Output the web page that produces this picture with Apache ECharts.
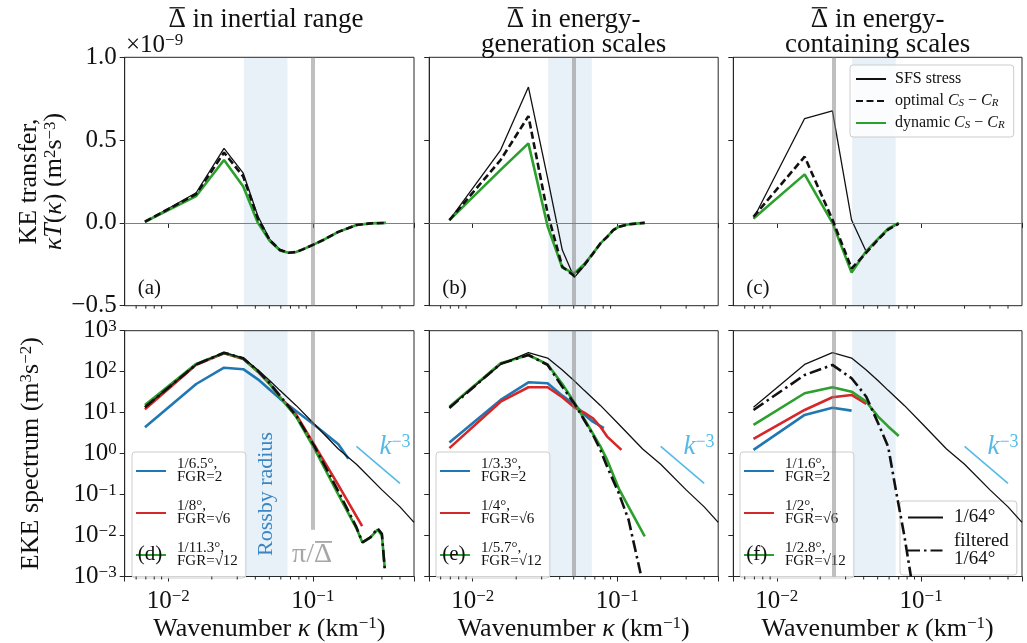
<!DOCTYPE html>
<html>
<head>
<meta charset="utf-8">
<script src="https://cdn.jsdelivr.net/npm/echarts@6/dist/echarts.min.js"></script>
<style>
  html, body { margin: 0; padding: 0; background: #fff; }
  #chart { width: 1027px; height: 643px; }
</style>
</head>
<body>
<div id="chart"></div>
<script>
const FONT = 'Liberation Serif';

// ---- top row: KE transfer (units of 1e-9 m^2 s^-3) ----
const kA = [0.0069, 0.0156, 0.0243, 0.033, 0.0417, 0.0504, 0.0591, 0.0678, 0.0765, 0.0852, 0.1026, 0.12, 0.15, 0.2, 0.25, 0.32];
const sfsA = [0.007, 0.182, 0.45, 0.30, 0.04, -0.10, -0.16, -0.18, -0.176, -0.16, -0.128, -0.10, -0.054, -0.013, -0.003, 0.0];
const optA = [0.007, 0.174, 0.425, 0.28, 0.025, -0.105, -0.163, -0.18, -0.176, -0.16, -0.128, -0.10, -0.054, -0.013, -0.003, 0.0];
const dynA = [0.007, 0.162, 0.38, 0.22, 0.0, -0.11, -0.166, -0.18, -0.176, -0.16, -0.128, -0.10, -0.054, -0.013, -0.003, 0.0];

const kB = [0.0069, 0.0156, 0.0243, 0.033, 0.0417, 0.0504, 0.0591, 0.0678, 0.0765, 0.0852, 0.0939, 0.1026, 0.12, 0.155];
const sfsB = [0.017, 0.44, 0.82, 0.27, -0.164, -0.33, -0.259, -0.187, -0.124, -0.084, -0.044, -0.023, -0.008, 0.0];
const optB = [0.017, 0.38, 0.645, 0.057, -0.265, -0.32, -0.255, -0.187, -0.124, -0.084, -0.044, -0.023, -0.008, 0.0];
const dynB = [0.017, 0.32, 0.48, -0.02, -0.27, -0.305, -0.25, -0.185, -0.124, -0.084, -0.044, -0.023, -0.008, 0.0];

const kC = [0.0069, 0.0156, 0.0243, 0.033, 0.0417, 0.0504, 0.0591, 0.07];
const sfsC = [0.027, 0.63, 0.677, 0.017, -0.174, -0.10, -0.04, -0.005];
const optC = [0.037, 0.40, 0.02, -0.275, -0.18, -0.10, -0.04, -0.005];
const dynC = [0.027, 0.293, 0.0, -0.30, -0.17, -0.095, -0.035, 0.0];

// ---- bottom row: EKE spectrum (m^3 s^-2) ----
const kRef = [0.0069, 0.0156, 0.0243, 0.033, 0.0417, 0.0504, 0.0591, 0.0765, 0.1026, 0.15, 0.2, 0.3, 0.4, 0.5];
const eRef = [13.5, 150, 290, 215, 110, 60, 35, 15, 5.2, 1.3, 0.55, 0.13, 0.05, 0.021];

const kD1 = [0.0069, 0.0156, 0.0243, 0.033, 0.0417, 0.0504, 0.0591, 0.0765, 0.1026, 0.15, 0.176];
const eD1 = [4.4, 50, 125, 115, 65, 36, 22, 11, 5.0, 1.7, 0.75];
const kD2 = [0.0069, 0.0156, 0.0243, 0.033, 0.0417, 0.0504, 0.0591, 0.0765, 0.1026, 0.15, 0.219];
const eD2 = [12, 148, 280, 205, 100, 50, 24, 9, 1.6, 0.17, 0.017];
const kD3 = [0.0069, 0.0156, 0.0243, 0.033, 0.0417, 0.0504, 0.0591, 0.0765, 0.1026, 0.15, 0.2, 0.22, 0.25, 0.28, 0.3, 0.314];
const eD3 = [15.4, 155, 285, 210, 100, 50, 24, 8, 1.3, 0.1, 0.015, 0.0068, 0.009, 0.014, 0.01, 0.0016];
const fD = [13.5, 150, 290, 212, 105, 52, 26, 8.5, 1.5, 0.12, 0.016, 0.0068, 0.009, 0.015, 0.011, 0.0015];

const kE1 = [0.0069, 0.0156, 0.0243, 0.033, 0.0417, 0.0504, 0.0591, 0.0678, 0.081];
const eE1 = [1.86, 20.4, 55, 52, 26, 16, 9, 6, 4.2];
const kE2 = [0.0069, 0.0156, 0.0243, 0.033, 0.0417, 0.0504, 0.0591, 0.0678, 0.0765, 0.0852, 0.107];
const eE2 = [1.36, 18.5, 41.7, 41.7, 23.7, 13.5, 10, 7.3, 4.5, 2.6, 1.23];
const kE3 = [0.0069, 0.0156, 0.0243, 0.033, 0.0417, 0.0504, 0.0591, 0.0678, 0.0765, 0.0852, 0.1026, 0.12, 0.155];
const eE3 = [14, 160, 255, 150, 50, 18, 7, 3.1, 1.5, 0.7, 0.14, 0.05, 0.0095];
const kEf = [0.0069, 0.0156, 0.0243, 0.033, 0.0417, 0.0504, 0.0591, 0.0678, 0.0765, 0.0852, 0.1026, 0.12, 0.145];
const fE = [13, 155, 255, 146, 43, 17, 6.6, 2.9, 1.23, 0.48, 0.108, 0.024, 0.0012];

const kF1 = [0.0069, 0.0156, 0.0243, 0.033];
const eF1 = [1.23, 8.8, 13.2, 11.2];
const kF2 = [0.0069, 0.0156, 0.0243, 0.033, 0.0417];
const eF2 = [2.28, 11.6, 23.7, 27, 16.4];
const kF3 = [0.0069, 0.0156, 0.0243, 0.033, 0.0417, 0.0504, 0.0591, 0.07];
const eF3 = [5.0, 29.7, 41.7, 32.5, 18.5, 8, 4.6, 2.7];
const kFf = [0.0069, 0.0156, 0.0243, 0.033, 0.0417, 0.0504, 0.0591, 0.0678, 0.0765, 0.085];
const fF = [11.6, 83, 146, 69, 24.5, 5.5, 1.48, 0.098, 0.01, 0.001];

// k^-3 reference segment
const kSlope = [0.2, 0.4];
const eSlope = [1.5, 0.1875];

// shading and markers
const rossbyBand = [0.0333, 0.0667];
const piOverDelta = [0.1, 0.05, 0.025];
const piLineBottomD = 0.0138;
const minorTicks = [0.006, 0.007, 0.008, 0.009, 0.02, 0.03, 0.04, 0.05, 0.06, 0.07, 0.08, 0.09, 0.2, 0.3, 0.4];

const names = {
  d: ['1/6.5°,\nFGR=2', '1/8°,\nFGR=√6', '1/11.3°,\nFGR=√12'],
  e: ['1/3.3°,\nFGR=2', '1/4°,\nFGR=√6', '1/5.7°,\nFGR=√12'],
  f: ['1/1.6°,\nFGR=2', '1/2°,\nFGR=√6', '1/2.8°,\nFGR=√12']
};

const BLUE = '#1f77b4', RED = '#d62728', GREEN = '#2ca02c', BLACK = '#111111', SKY = '#56b9e8';
const AX = '#262626';

const grids = [
  { left: 124.7, top: 57.3, width: 289.3, height: 248.4 },
  { left: 429.2, top: 57.3, width: 289, height: 248.4 },
  { left: 733.3, top: 57.3, width: 288.7, height: 248.4 },
  { left: 124.7, top: 330.7, width: 289.3, height: 246 },
  { left: 429.2, top: 330.7, width: 289, height: 246 },
  { left: 733.3, top: 330.7, width: 288.7, height: 246 }
].map(g => Object.assign({ show: true, borderColor: AX, borderWidth: 1, containLabel: false }, g));

const pts = (k, v) => k.map((x, i) => [x, v[i]]);
const line = (name, k, v, g, color, width, type, z) => ({
  name, type: 'line', xAxisIndex: g, yAxisIndex: g, data: pts(k, v),
  symbol: 'none', silent: true, animation: false, z: z,
  lineStyle: { color: color, width: width, type: type || 'solid', cap: 'butt' },
  itemStyle: { color: color }
});

const supRich = {
  b: { fontFamily: FONT, fontSize: 25, color: '#111', verticalAlign: 'bottom' },
  sup: { fontFamily: FONT, fontSize: 17, color: '#111', verticalAlign: 'top' },
  i: { fontFamily: FONT, fontSize: 26, fontStyle: 'italic', color: '#111' },
  n: { fontFamily: FONT, fontSize: 26, color: '#111' },
  s: { fontFamily: FONT, fontSize: 17, color: '#111', verticalAlign: 'top', padding: [0, 0, 10, 0] }
};

function powLabel(v) {
  const e = Math.round(Math.log10(v));
  if (Math.abs(Math.log10(v) - e) > 1e-6) return '';
  return '{b|10}{sup|' + (e < 0 ? '−' : '') + Math.abs(e) + '}';
}

const xAxes = grids.map((g, i) => ({
  type: 'log', gridIndex: i, min: 0.005, max: 0.5, logBase: 10,
  axisLine: { show: true, lineStyle: { color: AX, width: 1 } },
  axisTick: { show: true, length: 5, lineStyle: { color: AX, width: 1 } },
  splitLine: { show: false },
  axisLabel: { show: i >= 3, formatter: powLabel, rich: supRich, margin: 12 },
  name: i >= 3 ? '{n|Wavenumber }{i|κ}{n| (km}{s|−1}{n|)}' : '',
  nameLocation: 'middle', nameGap: 39,
  nameTextStyle: { rich: supRich }
}));

const yAxes = grids.map((g, i) => {
  if (i < 3) {
    return {
      type: 'value', gridIndex: i, min: -0.5, max: 1.0, interval: 0.5,
      axisLine: { show: true, lineStyle: { color: AX } },
      axisTick: { show: true, length: 5, lineStyle: { color: AX } },
      splitLine: { show: false },
      axisLabel: {
        show: i === 0, margin: 8,
        formatter: v => '{b|' + v.toFixed(1).replace('-', '−') + '}', rich: supRich
      },
      name: i === 0 ? '{n|KE transfer,}\n{i|κT}{n|(}{i|κ}{n|) (m}{s|2}{n|s}{s|−3}{n|)}' : '',
      nameLocation: 'middle', nameRotate: 90, nameGap: 58,
      nameTextStyle: { rich: supRich, lineHeight: 25 }
    };
  }
  return {
    type: 'log', gridIndex: i, min: 0.001, max: 1000, logBase: 10,
    axisLine: { show: true, lineStyle: { color: AX } },
    axisTick: { show: true, length: 5, lineStyle: { color: AX } },
    splitLine: { show: false },
    axisLabel: { show: i === 3, formatter: powLabel, rich: supRich, margin: 8 },
    name: i === 3 ? '{n|EKE spectrum (m}{s|3}{n|s}{s|−2}{n|)}' : '',
    nameLocation: 'middle', nameRotate: 90, nameGap: 80,
    nameTextStyle: { rich: supRich }
  };
});

const series = [];

// decorations: Rossby-radius band, pi/Delta line, zero line
for (let i = 0; i < 6; i++) {
  const col = i % 3;
  const x = piOverDelta[col];
  const lines = [];
  if (i < 3) {
    lines.push({ yAxis: 0, lineStyle: { color: '#7f7f7f', width: 1, type: 'solid' } });
    lines.push([{ coord: [x, -0.5] }, { coord: [x, 1.0] }]);
  } else if (i === 3) {
    lines.push([{ coord: [x, 1000] }, { coord: [x, piLineBottomD] }]);
  } else {
    lines.push([{ coord: [x, 0.001] }, { coord: [x, 1000] }]);
  }
  series.push({
    type: 'line', xAxisIndex: i, yAxisIndex: i, data: [], silent: true, z: 1, animation: false,
    markArea: { silent: true, itemStyle: { color: 'rgba(31,119,180,0.1)' },
      data: [[{ xAxis: rossbyBand[0] }, { xAxis: rossbyBand[1] }]] },
    markLine: { silent: true, symbol: ['none', 'none'], animation: false, precision: 6,
      label: { show: false },
      lineStyle: { color: 'rgba(128,128,128,0.5)', width: 4, type: 'solid' },
      data: lines }
  });
  // minor ticks on the log x axis
  series.push({
    type: 'custom', xAxisIndex: i, yAxisIndex: i, silent: true, z: 6, animation: false,
    data: minorTicks.map(v => [v, i < 3 ? -0.5 : 0.001]),
    renderItem: (params, api) => {
      const px = api.coord([api.value(0), api.value(1)])[0];
      const cs = params.coordSys;
      const yb = cs.y + cs.height;
      return { type: 'line', shape: { x1: px, y1: yb, x2: px, y2: yb + 3 },
        style: { stroke: AX, lineWidth: 1 } };
    }
  });
}

const OPT = 'optimal CS-CR', DYN = 'dynamic CS-CR', SFS = 'SFS stress';
const DASH = [7, 3.5], DASHDOT = [12, 4, 2.5, 4];
const REF = '1/64°', FILT = 'filtered\n1/64°';

[[kA, sfsA, optA, dynA], [kB, sfsB, optB, dynB], [kC, sfsC, optC, dynC]].forEach((p, g) => {
  series.push(line(SFS, p[0], p[1], g, BLACK, 1.3, 'solid', 3));
  series.push(line(DYN, p[0], p[3], g, GREEN, 2.6, 'solid', 4));
  series.push(line(OPT, p[0], p[2], g, BLACK, 2.6, DASH, 5));
});

// panel d
series.push(line(names.d[0], kD1, eD1, 3, BLUE, 2.6, 'solid', 3));
series.push(line(names.d[1], kD2, eD2, 3, RED, 2.6, 'solid', 3));
series.push(line(names.d[2], kD3, eD3, 3, GREEN, 2.6, 'solid', 3));
series.push(line(REF, kRef, eRef, 3, BLACK, 1.3, 'solid', 4));
series.push(line(FILT, kD3, fD, 3, BLACK, 2.6, DASHDOT, 5));
// panel e
series.push(line(names.e[0], kE1, eE1, 4, BLUE, 2.6, 'solid', 3));
series.push(line(names.e[1], kE2, eE2, 4, RED, 2.6, 'solid', 3));
series.push(line(names.e[2], kE3, eE3, 4, GREEN, 2.6, 'solid', 3));
series.push(line(REF, kRef, eRef, 4, BLACK, 1.3, 'solid', 4));
series.push(line(FILT, kEf, fE, 4, BLACK, 2.6, DASHDOT, 5));
// panel f
series.push(line(names.f[0], kF1, eF1, 5, BLUE, 2.6, 'solid', 3));
series.push(line(names.f[1], kF2, eF2, 5, RED, 2.6, 'solid', 3));
series.push(line(names.f[2], kF3, eF3, 5, GREEN, 2.6, 'solid', 3));
series.push(line(REF, kRef, eRef, 5, BLACK, 1.3, 'solid', 4));
series.push(line(FILT, kFf, fF, 5, BLACK, 2.6, DASHDOT, 5));
// k^-3 segments
[3, 4, 5].forEach(g => series.push(line('k-3', kSlope, eSlope, g, SKY, 1.6, 'solid', 3)));

const legendBox = {
  orient: 'vertical', backgroundColor: 'rgba(255,255,255,0.8)', borderColor: '#cccccc',
  borderWidth: 1, borderRadius: 3, selectedMode: false, itemWidth: 30, itemHeight: 14,
  itemStyle: { opacity: 0 }
};
const legRich = {
  i: { fontFamily: FONT, fontSize: 16, fontStyle: 'italic', color: '#111' },
  sb: { fontFamily: FONT, fontSize: 11, fontStyle: 'italic', color: '#111', verticalAlign: 'bottom' },
  n: { fontFamily: FONT, fontSize: 16, color: '#111' }
};
const legends = [
  Object.assign({}, legendBox, {
    left: 850, top: 65, itemGap: 6, padding: [6, 9, 6, 5],
    data: [SFS, OPT, DYN],
    formatter: n => n === SFS ? '{n|SFS stress}' :
      '{n|' + n.split(' ')[0] + ' }{i|C}{sb|S}{n| − }{i|C}{sb|R}',
    textStyle: { fontFamily: FONT, fontSize: 16, color: '#111', rich: legRich, padding: [0, 0, 0, 4] }
  })
];
[['d', 132], ['e', 436], ['f', 740]].forEach(([p, x]) => {
  legends.push(Object.assign({}, legendBox, {
    left: x, top: 452, itemGap: 14, padding: [5, 8, 9, 3], data: names[p],
    textStyle: { fontFamily: FONT, fontSize: 15, lineHeight: 13, color: '#111', padding: [0, 0, 0, 6] }
  }));
});
legends.push(Object.assign({}, legendBox, {
  left: 900, top: 501, itemGap: 5, itemWidth: 35, padding: [7, 8, 6, 7], data: [REF, FILT],
  textStyle: { fontFamily: FONT, fontSize: 19, lineHeight: 18, color: '#111', padding: [0, 0, 0, 6] }
}));

// text helpers
const mctx = document.createElement('canvas').getContext('2d');
function textWidth(s, fs) {
  mctx.font = fs + 'px "' + FONT + '"';
  return mctx.measureText(s).width;
}
const txt = (x, y, text, opt, el) => Object.assign({
  type: 'text', x: x, y: y, silent: true, z: 100,
  style: Object.assign({ text: text, fontFamily: FONT, fontSize: 24, fill: '#111',
    textAlign: 'center', textVerticalAlign: 'middle' }, opt || {})
}, el || {});
const bar = (x1, x2, y, color, w) => ({
  type: 'line', silent: true, z: 100,
  shape: { x1: x1, y1: y, x2: x2, y2: y }, style: { stroke: color, lineWidth: w || 1.2 }
});

const graphic = [];
// headings with an overbar on Delta
const TFS = 27;
function heading(cx, cy, s, withBar) {
  graphic.push(txt(cx, cy, s, { fontSize: TFS }));
  if (withBar) {
    const w = textWidth(s, TFS), wd = textWidth('Δ', TFS);
    const x0 = cx - w / 2;
    graphic.push(bar(x0 + 1, x0 + wd - 1, cy - 0.36 * TFS - 2.5, '#111', 1.3));
  }
}
heading(266, 20, 'Δ in inertial range', true);
heading(573.7, 20, 'Δ in energy-', true);
heading(573.7, 45, 'generation scales', false);
heading(877.7, 20, 'Δ in energy-', true);
heading(877.7, 45, 'containing scales', false);

graphic.push(txt(126, 45, '{b|×10}{sup|−9}', { textAlign: 'left', rich: supRich }));
graphic.push(txt(266, 494, 'Rossby radius', { fontSize: 22, fill: '#3b86c2' }, { rotation: Math.PI / 2 }));

// pi / Delta-bar label under the grey line in (d)
(function () {
  const s = 'π/Δ', fs = 28, cx = 312, cy = 555, col = 'rgba(128,128,128,0.7)';
  graphic.push(txt(cx, cy, s, { fontSize: fs, fill: col }));
  const w = textWidth(s, fs), wd = textWidth('Δ', fs);
  graphic.push(bar(cx + w / 2 - wd + 1, cx + w / 2, cy - 0.36 * fs - 3, col, 1.8));
})();

const kRich = {
  k: { fontFamily: FONT, fontSize: 27, fontStyle: 'italic', fill: SKY, verticalAlign: 'bottom' },
  e: { fontFamily: FONT, fontSize: 18, fill: SKY, verticalAlign: 'top' }
};
[395, 699, 1003].forEach(x => graphic.push(txt(x, 447, '{k|k}{e|−3}', { rich: kRich })));

const panelTags = ['(a)', '(b)', '(c)', '(d)', '(e)', '(f)'];
grids.forEach((g, i) => {
  graphic.push(txt(g.left + 13, g.top + g.height - (i < 3 ? 17 : 22), panelTags[i],
    { textAlign: 'left', fontSize: 21 }));
});

const chart = echarts.init(document.getElementById('chart'), null, { renderer: 'canvas' });
chart.setOption({
  backgroundColor: '#ffffff',
  animation: false,
  grid: grids,
  xAxis: xAxes,
  yAxis: yAxes,
  legend: legends,
  series: series,
  graphic: graphic
});
</script>
</body>
</html>
